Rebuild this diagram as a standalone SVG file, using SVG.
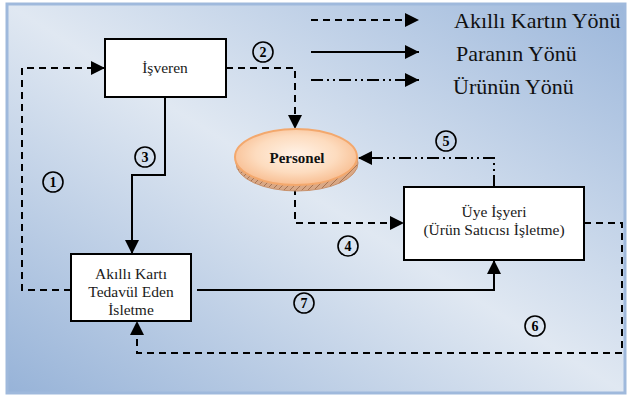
<svg xmlns="http://www.w3.org/2000/svg" width="627" height="398" viewBox="0 0 627 398">
<defs>
<linearGradient id="bg" x1="0" y1="1" x2="1" y2="0">
<stop offset="0" stop-color="#97b3d8"/>
<stop offset="0.5" stop-color="#e0e8f2"/>
<stop offset="1" stop-color="#9cb7db"/>
</linearGradient>
<radialGradient id="pg" cx="0.5" cy="0.45" r="0.55">
<stop offset="0" stop-color="#fff2e6"/>
<stop offset="0.6" stop-color="#fddcbf"/>
<stop offset="1" stop-color="#f8be92"/>
</radialGradient>
<pattern id="hatch" width="6" height="6" patternUnits="userSpaceOnUse">
<rect width="6" height="6" fill="#d9a886"/>
<path d="M0,6 L6,0" stroke="#a87452" stroke-width="1"/>
</pattern>
<marker id="ah" viewBox="0 0 14 14" refX="14" refY="7" markerWidth="14" markerHeight="14" markerUnits="userSpaceOnUse" orient="auto">
<path d="M0,0 L14,7 L0,14 z" fill="#000"/>
</marker>
</defs>
<style>
.box{fill:#fff;stroke:#000;stroke-width:2}
.t{font-family:'Liberation Serif','DejaVu Serif',serif;font-size:15.5px;fill:#1a1a1a;text-anchor:middle}
.lg{font-family:'Liberation Serif','DejaVu Serif',serif;font-size:22px;fill:#111}
.ln{fill:none;stroke:#000;stroke-width:2}
.dash{stroke-dasharray:7 5}
.dd{stroke-dasharray:12 4 2 4 2 4}
.c{fill:none;stroke:#000;stroke-width:1.6}
.n{font-family:'Liberation Serif','DejaVu Serif',serif;font-size:14px;font-weight:bold;text-anchor:middle;fill:#000}
.p{font-family:'Liberation Serif','DejaVu Serif',serif;font-size:15px;font-weight:bold;text-anchor:middle;fill:#111}
</style>
<rect x="7" y="4" width="618" height="389" fill="url(#bg)" stroke="#9fb9dc" stroke-width="3"/>

<g id="legend">
<line class="ln dash" x1="311" y1="20" x2="419" y2="20" marker-end="url(#ah)"/>
<line class="ln" x1="311" y1="52" x2="419" y2="52" marker-end="url(#ah)"/>
<line class="ln dd" x1="311" y1="80" x2="419" y2="80" marker-end="url(#ah)"/>
<text class="lg" x="454" y="28">Akıllı Kartın Yönü</text>
<text class="lg" x="456" y="61">Paranın Yönü</text>
<text class="lg" x="453" y="94">Ürünün Yönü</text>
</g>

<g id="connectors">
<path class="ln dash" d="M71,290 H22 V68 H105" marker-end="url(#ah)"/>
<path class="ln dash" d="M226,68 H295 V129" marker-end="url(#ah)"/>
<path class="ln" d="M165,97 V175 H132 V254" marker-end="url(#ah)"/>
<path class="ln dash" d="M295,188 V223 H404" marker-end="url(#ah)"/>
<path class="ln dd" d="M494,187 V158 H358" marker-end="url(#ah)"/>
<path class="ln dash" d="M584,223 H622 V353 H137 V321" marker-end="url(#ah)"/>
<path class="ln" d="M197,290 H494 V260" marker-end="url(#ah)"/>
</g>

<g id="isveren">
<rect class="box" x="105" y="39" width="121" height="58"/>
<text class="t" x="165" y="73">İşveren</text>
</g>

<g id="personel">
<ellipse cx="297" cy="163" rx="61" ry="28" fill="url(#hatch)" stroke="#c8906a" stroke-width="1"/>
<ellipse cx="296" cy="157" rx="61" ry="28" fill="url(#pg)" stroke="#f3a86d" stroke-width="2"/>
<text class="p" x="297" y="163">Personel</text>
</g>

<g id="akilli">
<rect class="box" x="71" y="254" width="120" height="67"/>
<text class="t" x="131" y="279">Akıllı Kartı</text>
<text class="t" x="131" y="297">Tedavül Eden</text>
<text class="t" x="131" y="315">İsletme</text>
</g>

<g id="uye">
<rect class="box" x="404" y="187" width="180" height="73"/>
<text class="t" x="494" y="217">Üye İşyeri</text>
<text class="t" x="494" y="235">(Ürün Satıcısı İşletme)</text>
</g>

<g id="labels">
<circle class="c" cx="53" cy="182" r="10"/><text class="n" x="53" y="187">1</text>
<circle class="c" cx="263" cy="52" r="10"/><text class="n" x="263" y="57">2</text>
<circle class="c" cx="145" cy="157" r="10"/><text class="n" x="145" y="162">3</text>
<circle class="c" cx="348" cy="246" r="10"/><text class="n" x="348" y="251">4</text>
<circle class="c" cx="446" cy="141" r="10"/><text class="n" x="446" y="146">5</text>
<circle class="c" cx="535" cy="326" r="10"/><text class="n" x="535" y="331">6</text>
<circle class="c" cx="304" cy="303" r="10"/><text class="n" x="304" y="308">7</text>
</g>
</svg>
